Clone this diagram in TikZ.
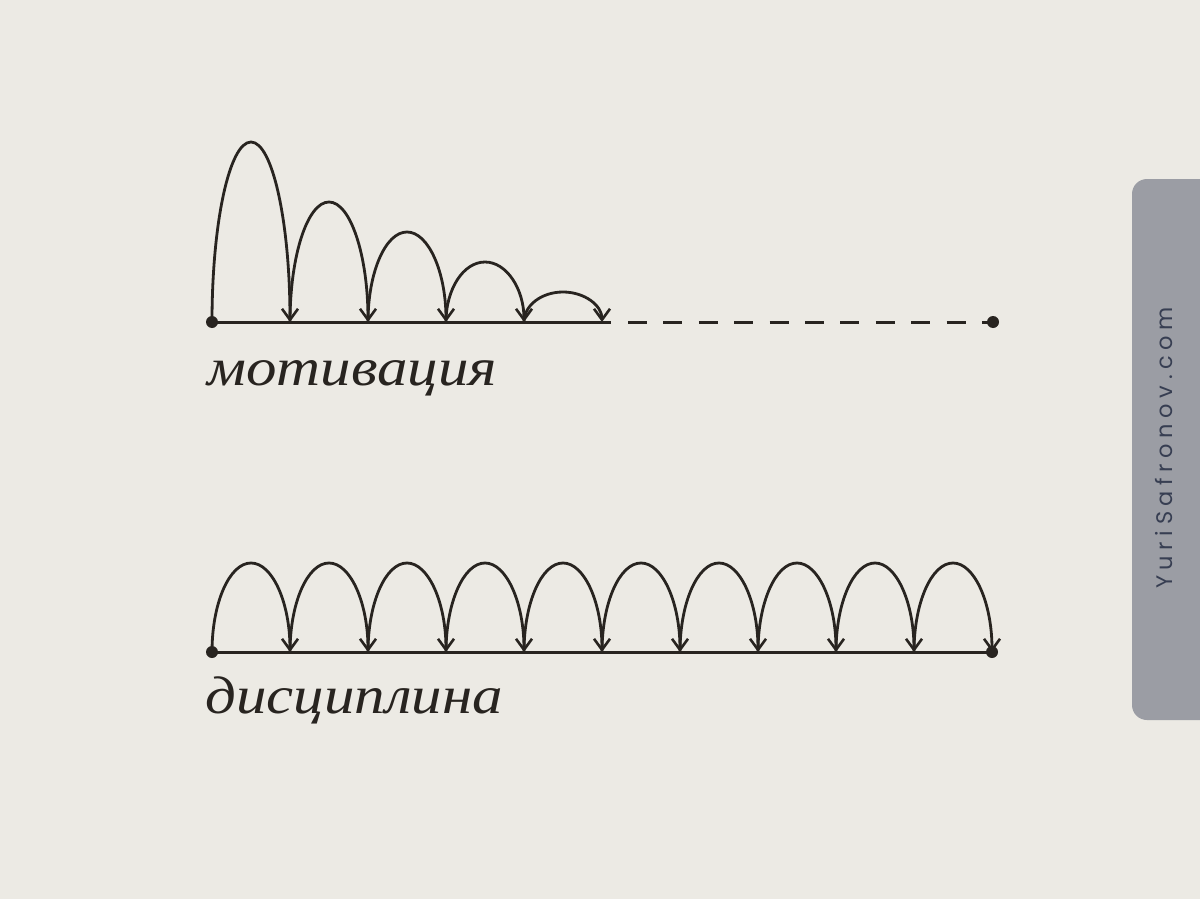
\documentclass[tikz,border=0pt]{standalone}
\usepackage{fontspec}
\usetikzlibrary{arrows.meta}
\newfontfamily\labfont{Liberation Serif}[FakeStretch=1.15]
\newfontfamily\tabfont{Poppins}[LetterSpace=25]
\definecolor{bgc}{RGB}{236,234,228}
\definecolor{ink}{RGB}{40,36,32}
\definecolor{tabc}{RGB}{155,157,164}
\definecolor{tabtext}{RGB}{55,62,82}
\tikzset{
  base/.style={draw=ink, line width=3pt},
  hop/.style={draw=ink, line width=2.8pt, -{Straight Barb[length=11pt,width=16pt,line width=2.6pt]}},
  dot/.style={circle, fill=ink, inner sep=0pt, minimum size=12pt},
  lab/.style={text=ink, inner sep=0pt, anchor=base west, font=\labfont\itshape\fontsize{53}{56}\selectfont},
  tab/.style={fill=tabc, rounded corners=15pt},
  tablab/.style={text=tabtext, rotate=90, inner sep=0pt, font=\tabfont\fontsize{22.5}{24}\selectfont}
}
\begin{document}
\begin{tikzpicture}[x=1pt,y=-1pt]
\useasboundingbox (0,0) rectangle (1200,899);
\fill[bgc] (0,0) rectangle (1200,899);
% side tab
\path[tab] (1132,179) rectangle (1230,720);
\node[tablab] (site) at (1164,448) {YuriSafronov.com};
% top: motivation
\node[dot] (m0) at (212,322) {};
\coordinate (m1) at (290,322);
\coordinate (m2) at (368,322);
\coordinate (m3) at (446,322);
\coordinate (m4) at (524,322);
\coordinate (m5) at (602,322);
\coordinate (mend) at (611,322);
\coordinate (dstart) at (628,322);
\node[dot] (mfin) at (993,322) {};
\draw[base] (m0.center) -- (mend);
\draw[ink, line width=3pt, dash pattern=on 19pt off 16.4pt] (dstart) -- (mfin.center);
\draw[hop] (m0.center) arc[start angle=180, end angle=0, x radius=39pt, y radius=180pt];
\draw[hop] (m1) arc[start angle=180, end angle=0, x radius=39pt, y radius=120pt];
\draw[hop] (m2) arc[start angle=180, end angle=0, x radius=39pt, y radius=90pt];
\draw[hop] (m3) arc[start angle=180, end angle=0, x radius=39pt, y radius=60pt];
\draw[hop] (m4) arc[start angle=180, end angle=0, x radius=39pt, y radius=30pt];
\node[lab] (motiv) at (207,385) {мотивация};
% bottom: discipline
\node[dot] (d0) at (212,652) {};
\node[dot] (d10) at (992,652) {};
\draw[base] (d0.center) -- (d10.center);
\foreach \i in {0,...,9} {
  \coordinate (s\i) at (212+78*\i,652);
  \draw[hop] (s\i) arc[start angle=180, end angle=0, x radius=39pt, y radius=89pt];
}
\node[lab] (disc) at (205,713) {дисциплина};
\end{tikzpicture}
\end{document}
